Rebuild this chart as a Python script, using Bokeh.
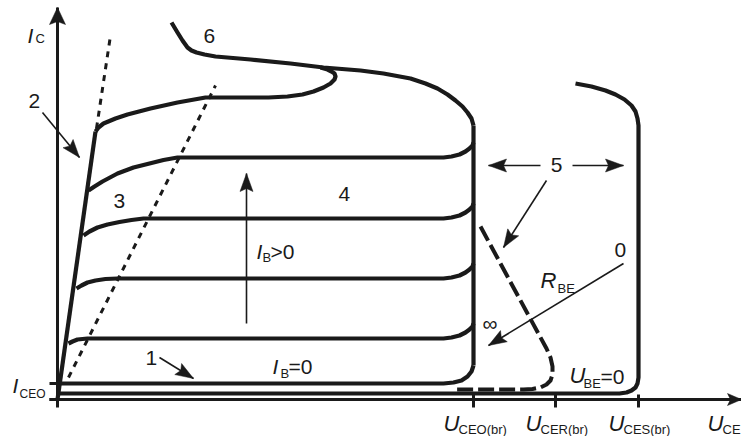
from bokeh.plotting import figure
from bokeh.models import Range1d
from bokeh.core.properties import value
from bokeh.embed import file_html
from bokeh.resources import INLINE

# ---------------- data (schematic units: U_CE to the right, I_C upward) ----------------
# saturation line (2)
sat_x = [0, 38]
sat_y = [0, 268]

# I_B = 0 curve (1)
ib0_x = [2, 386, 396, 404, 410, 414, 416]
ib0_y = [16, 16, 17, 19, 23, 28, 34]

# I_B > 0 family
c1_x = [11, 15, 20, 30, 386, 394, 402, 408, 412, 415, 416]
c1_y = [56, 58, 60, 61, 61, 62, 64, 67, 70, 73, 76]
c2_x = [19, 24, 30, 38, 48, 60, 386, 394, 402, 408, 412, 415, 416]
c2_y = [111, 114, 117, 119, 120.5, 121, 121, 122, 124, 127, 130, 133, 136]
c3_x = [26, 32, 40, 50, 62, 74, 86, 386, 394, 402, 408, 412, 415, 416]
c3_y = [164, 168, 172, 175, 177.5, 179.5, 181, 181, 182, 184, 187, 190, 193, 196]
c4_x = [31, 37, 45, 60, 76, 92, 106, 120, 386, 394, 402, 408, 412, 415, 416]
c4_y = [209, 213, 218, 226, 232, 236, 239.5, 242, 242, 243, 245, 248, 251, 254, 257]
top_x = [38, 41, 46, 58, 70, 93, 120, 148, 211, 230, 245, 256, 266, 273, 277, 278, 277, 274, 270, 263]
top_y = [268, 272, 276, 281, 285, 291, 297, 302, 302, 303, 305, 308, 312, 316, 320, 323, 326, 328, 330, 332]

# curve 6
c6_x = [114, 120, 125, 130, 134, 139, 147, 158, 193, 233, 266, 303, 326, 353, 368, 380, 390, 398, 405, 410, 414, 416]
c6_y = [377, 367, 359, 352, 349, 347, 345, 343, 340, 336, 332, 329, 326, 321, 316, 311, 305, 299, 293, 287, 281, 274]

# breakdown line at U_CEO(br)
brk_x = [416, 416]
brk_y = [34, 274]

# U_BE = 0 curve
ube_x = [0, 562, 569, 574, 578, 580, 581, 581, 580, 578, 574, 567, 558, 548, 534, 518]
ube_y = [6, 6, 7, 9, 12, 16, 22, 274, 281, 288, 294, 300, 305, 309, 313, 316]

# R_BE curve (dashed)
rbe_x = [423, 457, 489, 493, 495, 495, 493, 489, 483, 475, 466, 399]
rbe_y = [173, 110, 51, 42, 33, 25, 19, 15, 12, 10.5, 10, 10]

# dotted lines
d1_x = [39, 53]
d1_y = [271, 364]
d2_x = [11, 158]
d2_y = [22, 314]

# axes
x_axis_x = [-8, 684]
y_axis_y = [-8, 392]
x_ticks = [416, 498, 581]
x_tick_subs = ["CEO(br)", "CER(br)", "CES(br)"]
y_ticks = [0, 16]

# annotation arrows: (tail, tip)
arrows_thin = [
    ((-15, 287), (22, 242)),     # 2
    ((102, 42), (136, 21)),      # 1
    ((189, 76), (189, 226)),     # I_B > 0
    ((483, 234), (431, 234)),    # 5 left
    ((515, 234), (566, 234)),    # 5 right
    ((489, 219), (446, 152)),    # 5 diagonal
    ((566, 136), (431, 54)),     # R_BE
]

# ---------------- figure ----------------
p = figure(width=741, height=436, x_range=Range1d(-57, 684), y_range=Range1d(-37, 399),
           output_backend="svg", toolbar_location=None, x_axis_type=None, y_axis_type=None,
           min_border=0, outline_line_color=None, background_fill_color="white",
           border_fill_color="white")
p.grid.visible = False

K = "#1a1a1a"
TH = 4.2

def curve(xs, ys, w=TH, dash="solid"):
    p.line(xs, ys, line_color=K, line_width=w, line_join="round", line_cap="butt", line_dash=dash)

def head(tail, tip, L, W):
    dx, dy = tip[0] - tail[0], tip[1] - tail[1]
    n = (dx * dx + dy * dy) ** 0.5
    ux, uy = dx / n, dy / n
    bx, by = tip[0] - ux * L, tip[1] - uy * L
    px, py = -uy * W / 2, ux * W / 2
    p.patch([tip[0], bx + px, bx + ux * 3, bx - px], [tip[1], by + py, by + uy * 3, by - py],
            fill_color=K, line_color=K, line_width=0.5)

# axes
p.line(x_axis_x, [0, 0], line_color=K, line_width=3)
p.line([0, 0], y_axis_y, line_color=K, line_width=3)
head((x_axis_x[0], 0), (x_axis_x[1], 0), 14, 12)
head((0, y_axis_y[0]), (0, y_axis_y[1]), 17, 16)
for t in x_ticks:
    p.line([t, t], [5, -8], line_color=K, line_width=3)
for t in y_ticks:
    p.line([-8, 0], [t, t], line_color=K, line_width=3)

# dotted lines
curve(d1_x, d1_y, w=3, dash="6 6")
curve(d2_x, d2_y, w=3, dash="6 6")

# characteristic curves
curve(sat_x, sat_y)
curve(ib0_x, ib0_y)
for xs, ys in [(c1_x, c1_y), (c2_x, c2_y), (c3_x, c3_y), (c4_x, c4_y), (top_x, top_y)]:
    curve(xs, ys)
curve(c6_x, c6_y)
curve(brk_x, brk_y)
curve(ube_x, ube_y)
curve(rbe_x, rbe_y, w=4, dash="16 5")

# thin arrows
for tail, tip in arrows_thin:
    p.line([tail[0], tip[0]], [tail[1], tip[1]], line_color=K, line_width=1.6)
    head(tail, tip, 18, 13)

# ---------------- texts ----------------
FONT = value("Liberation Sans")

def txt(x, y, s, size=21, italic=False, align="left"):
    # y is the visual baseline; compensate the renderer's baseline placement
    p.text([x], [y + 0.3 * size], text=[s], text_font=FONT, text_font_size=f"{size}px",
           text_font_style="italic" if italic else "normal", text_color=K,
           text_align=align, text_baseline="alphabetic")

MAIN = 21
SUB = 13

# axis labels
txt(-30, 358, "I", MAIN, True)
txt(-22, 357, "C", SUB)
txt(-45, 8, "I", MAIN, True)
txt(-38, 2, "CEO", 12)
for t, s in zip(x_ticks, x_tick_subs):
    txt(t - 30, -31, "U", 22, True)
    txt(t - 15, -34, s, SUB)
txt(650, -31, "U", 22, True)
txt(665, -34, "CE", SUB)

# numbers
txt(-29, 292, "2", MAIN)
txt(146, 357, "6", MAIN)
txt(56, 192, "3", MAIN)
txt(281, 199, "4", MAIN)
txt(499, 228, "5", MAIN, align="center")
txt(557, 143, "0", MAIN)
txt(88, 35, "1", MAIN)
txt(425, 70, "\u221e", MAIN)

# parameter labels
txt(483, 112, "R", 22, True)
txt(500, 107, "BE", SUB)
txt(215, 27, "I", MAIN, True)
txt(223, 22, "B", SUB)
txt(231, 27, "=0", MAIN)
txt(199, 142, "I", MAIN, True)
txt(205, 138, "B", SUB)
txt(213, 142, ">0", MAIN)
txt(512, 17, "U", 22, True)
txt(526, 12, "BE", SUB)
txt(543, 17, "=0", MAIN)

open("out.html", "w").write(file_html(p, INLINE))
